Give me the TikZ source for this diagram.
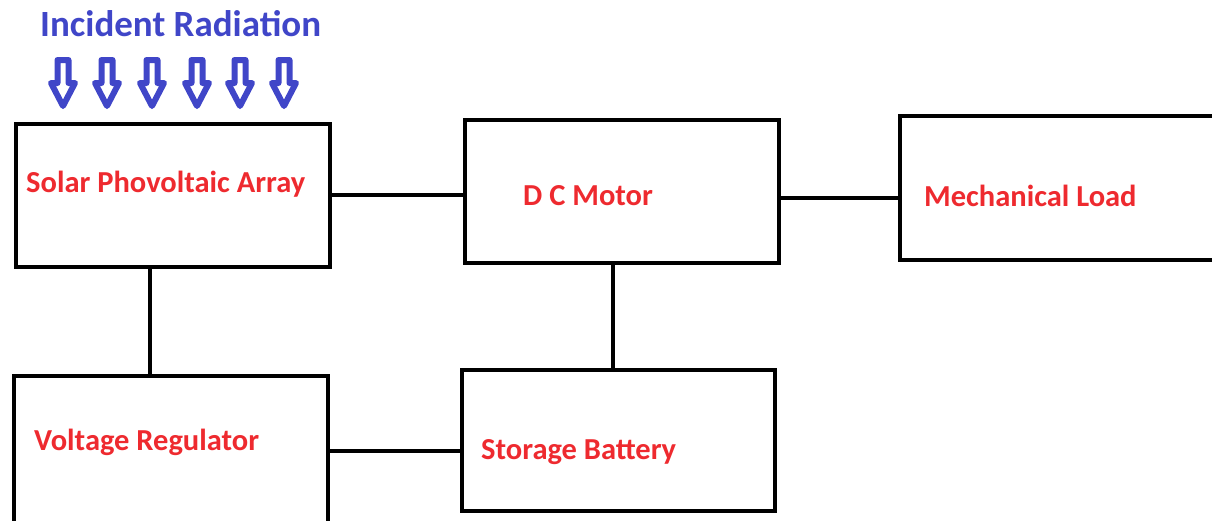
\documentclass[tikz,border=0pt]{standalone}
\usepackage{fontspec}
\setmainfont{Carlito}
\usetikzlibrary{positioning,calc}
\definecolor{labelred}{HTML}{EE2A2F}
\definecolor{raysblue}{HTML}{4046C8}
\tikzset{
  blockbox/.style  ={draw=black, line width=4pt, inner sep=0pt,
                     minimum width=314pt, minimum height=143pt},
  blocklabel/.style={font=\fontsize{30.5}{34}\selectfont\bfseries,
                     text=labelred, anchor=west, inner sep=0pt},
  link/.style      ={line width=4pt},
  rayarrow/.style  ={draw=raysblue, fill=white, line width=6pt, line join=round},
}

\begin{document}
\begin{tikzpicture}[x=1pt,y=-1pt]
    \useasboundingbox (0,0) rectangle (1212,520);
    \clip (0,0) rectangle (1212,520);

    % ----- incident radiation -----
    \node[font=\fontsize{37}{40}\selectfont\bfseries,text=raysblue,
          anchor=west,inner sep=0pt] (title) at (40,24) {Incident Radiation};
    \foreach \ax in {63,107,152,197,240,284}
      \draw[rayarrow] (\ax-5.5,60) -- (\ax+5.5,60) -- (\ax+5.5,83)
        -- (\ax+12,83) -- (\ax,106) -- (\ax-12,83) -- (\ax-5.5,83) -- cycle;

    % ----- blocks -----
    \node[blockbox] (solar) at (173,195) {};
    \node[blockbox] (motor) at (622,191.5) {};
    \node[blockbox,minimum width=330pt,minimum height=144pt] (load) at (1065,188) {};
    \node[blockbox,minimum height=150pt] (reg) at (171,451) {};
    \node[blockbox,minimum width=313pt,minimum height=141pt] (batt) at (618.5,440.5) {};

    \node[blocklabel] at ($(solar.west)+(12,-11)$) {Solar Phovoltaic Array};
    \node[blocklabel] at ($(motor.west)+(60,4.5)$) {D C Motor};
    \node[blocklabel] at ($(load.west)+(26,8)$) {Mechanical Load};
    \node[blocklabel] at ($(reg.west)+(22,-9)$) {Voltage Regulator};
    \node[blocklabel] at ($(batt.west)+(21,11.5)$) {Storage Battery};

    % ----- links -----
    \draw[link] (solar.east) -- (solar.east -| motor.west);
    \draw[link] ($(motor.east)+(0,6.5)$) -- (motor.east |- 0,198) -- (load.west |- 0,198);
    \draw[link] (solar.south -| 150,0) -- (reg.north -| 150,0);
    \draw[link] (motor.south -| 613,0) -- (batt.north -| 613,0);
    \draw[link] (reg.east |- 0,451) -- (batt.west |- 0,451);
  \end{tikzpicture}
\end{document}
